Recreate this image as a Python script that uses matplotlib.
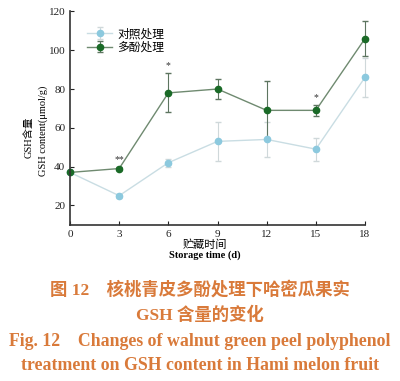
import numpy as np
import matplotlib
matplotlib.use('Agg')
import matplotlib.pyplot as plt

plt.rcParams['font.family'] = ['Liberation Serif', 'Noto Sans CJK SC']

days = [0, 3, 6, 9, 12, 15, 18]
ctrl = [37, 25, 42, 53, 54, 49, 86]
ctrl_err = [0, 1, 2, 10, 9, 6, 10]
poly = [37, 39, 78, 80, 69, 69, 106]
poly_err = [0, 1, 10, 5, 15, 3, 9]
stars = {3: '**', 6: '*', 15: '*'}

fig = plt.figure(figsize=(4, 3.81), dpi=100)
ax = fig.add_axes([0.175, 0.41, 0.7375, 0.56])

for y, e, lc, ec, mc, lab in [(ctrl, ctrl_err, '#c9dde3', '#cfd8da', '#8cc9de', '对照处理'),
                              (poly, poly_err, '#6f8a70', '#5d7560', '#1a6a27', '多酚处理')]:
    cont = ax.errorbar(days, y, yerr=e, color=lc, ecolor=ec, marker='o', ms=4.5,
                       mfc=mc, mec=mc, lw=1, capsize=2, elinewidth=0.8, label=lab)
    arts = [cont.lines[0]] + list(cont.lines[1]) + list(cont.lines[2])
    for a in arts:
        a.set_clip_on(False)

for d, s in stars.items():
    i = days.index(d)
    ax.text(d, poly[i] + poly_err[i] + 1.5, s, ha='center', va='bottom', fontsize=7, color='#333333')

ax.set_xlim(0, 18)
ax.set_ylim(10, 120)
ax.set_xticks(days)
ax.set_yticks([20, 40, 60, 80, 100, 120])
ax.tick_params(direction='in', length=3, labelsize=8, colors='#222222')
for s in ['top', 'right']:
    ax.spines[s].set_visible(False)
for s in ['left', 'bottom']:
    ax.spines[s].set_color('#333333')
    ax.spines[s].set_linewidth(1.2)

# axis titles (Chinese + English lines)
ax.text(0.458, -0.092, '贮藏时间', transform=ax.transAxes, ha='center', va='center', fontsize=8)
ax.text(0.458, -0.143, 'Storage time (d)', transform=ax.transAxes, ha='center', va='center',
        fontsize=7.5, fontweight='bold')
ax.text(-0.139, 0.41, 'GSH含量', transform=ax.transAxes, ha='center', va='center',
        rotation=90, fontsize=7.5)
ax.text(-0.092, 0.44, 'GSH content(μmol/g)', transform=ax.transAxes, ha='center', va='center',
        rotation=90, fontsize=7.5)

ax.legend(loc='upper left', bbox_to_anchor=(0.02, 0.97), frameon=False, fontsize=8.5,
          handlelength=2.2, labelspacing=0.1, handletextpad=0.4)

cap = '#d97a3a'
fig.text(0.5, 1 - 290 / 381, '图 12　核桃青皮多酚处理下哈密瓜果实', ha='center', va='center',
         fontsize=12.5, color=cap, fontweight='bold')
fig.text(0.5, 1 - 315 / 381, 'GSH 含量的变化', ha='center', va='center',
         fontsize=12.5, color=cap, fontweight='bold')
fig.text(0.5, 1 - 341 / 381, 'Fig. 12　Changes of walnut green peel polyphenol', ha='center', va='center',
         fontsize=12.8, color=cap, fontweight='bold')
fig.text(0.5, 1 - 366 / 381, 'treatment on GSH content in Hami melon fruit', ha='center', va='center',
         fontsize=12.8, color=cap, fontweight='bold')

fig.savefig('out.png', dpi=100)
